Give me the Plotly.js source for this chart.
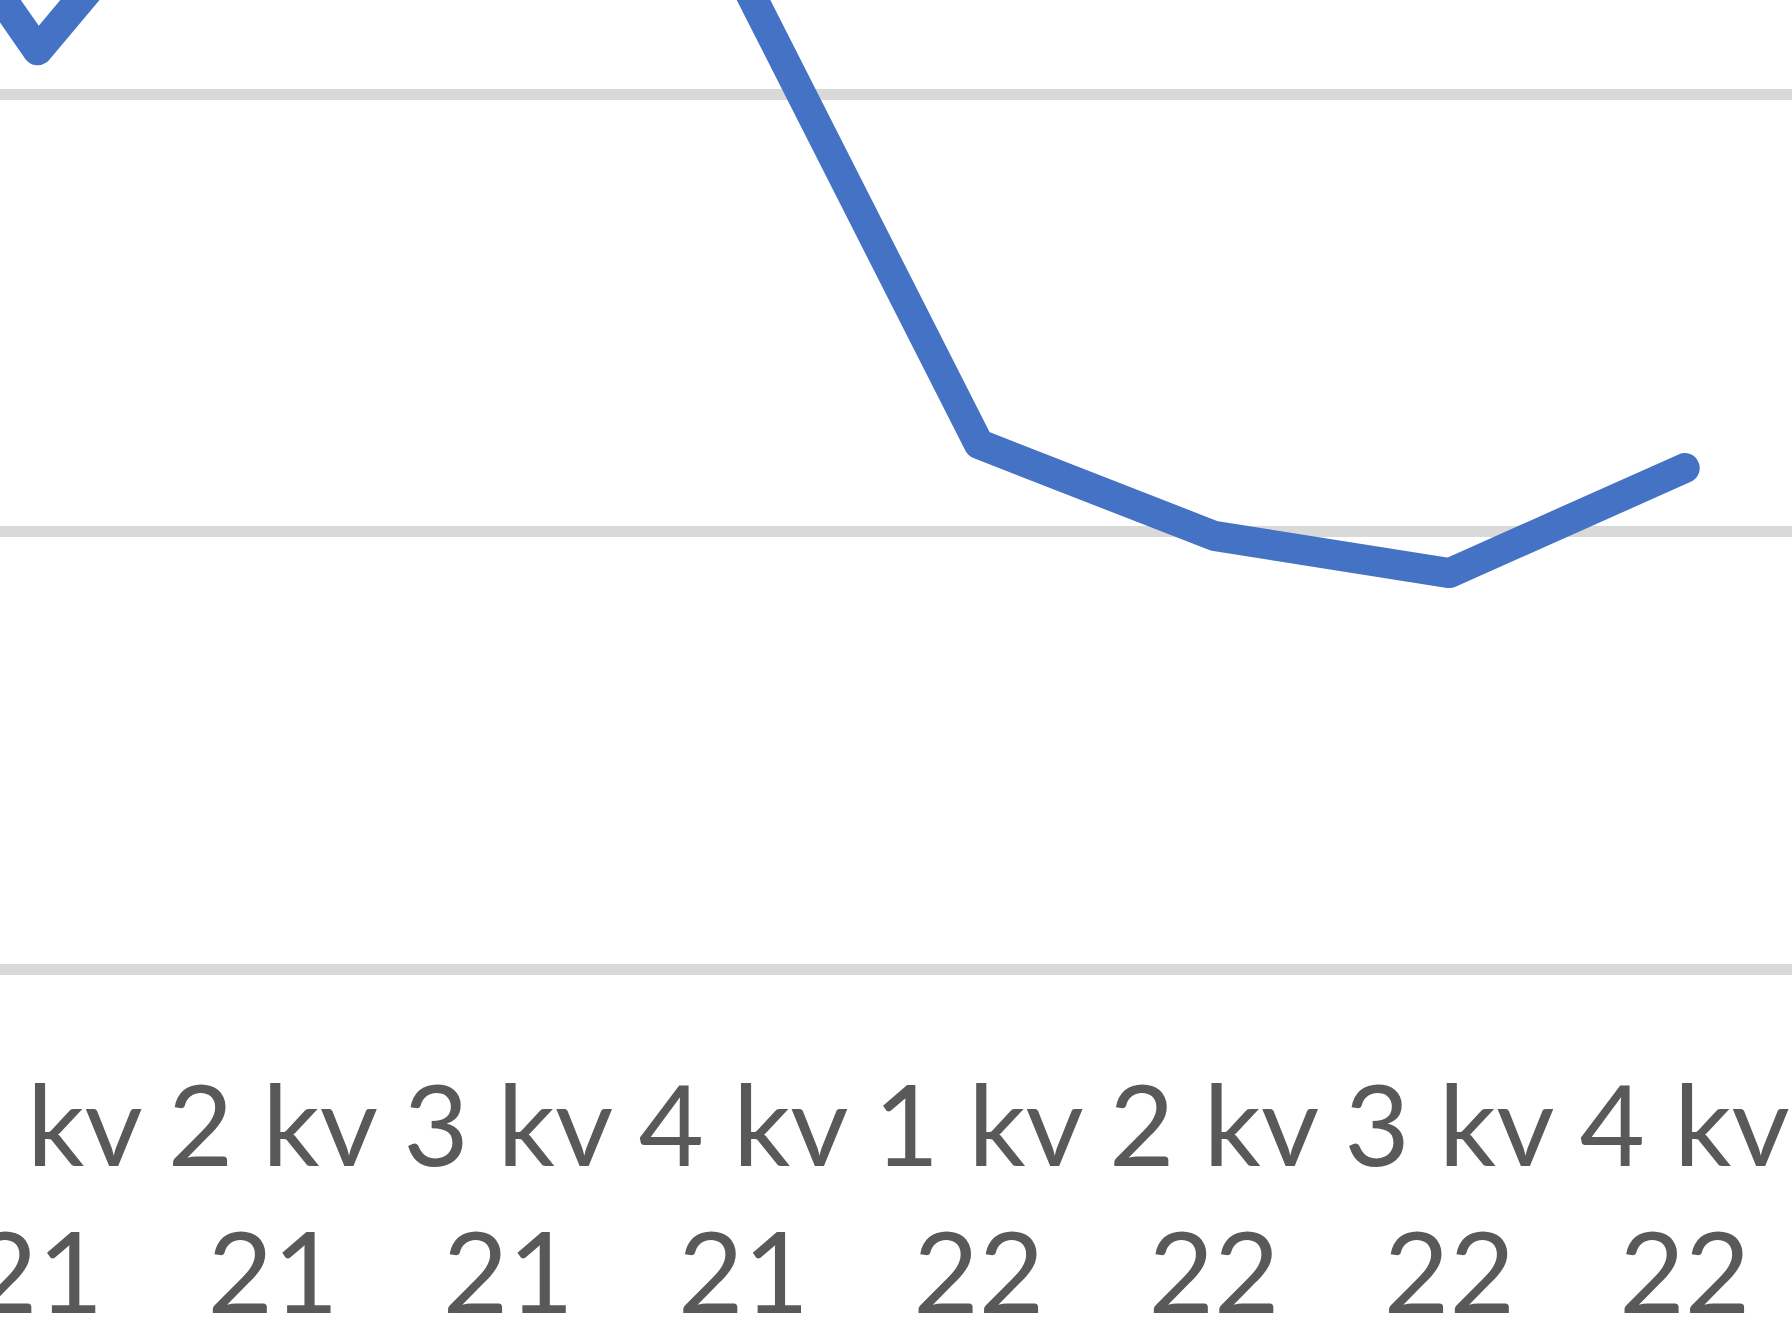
<!DOCTYPE html>
<html>
<head>
<meta charset="utf-8">
<script src="https://cdn.plot.ly/plotly-3.0.1.min.js"></script>
<style>
  html, body { margin: 0; padding: 0; background: #ffffff; overflow: hidden; }
  #chart { width: 1792px; height: 1325px; }
  .js-line { stroke-linejoin: round !important; stroke-linecap: round !important; }
</style>
</head>
<body>
<div id="chart"></div>
<script>
// Quarter categories (first one lies outside the visible window on the left)
const categories = ["4 kv 20", "1 kv 21", "2 kv 21", "3 kv 21", "4 kv 21", "1 kv 22", "2 kv 22", "3 kv 22", "4 kv 22"];
// Tick labels, two lines each
const tickLabels = ["4 kv<br>20", "1 kv<br>21", "2 kv<br>21", "3 kv<br>21", "4 kv<br>21", "1 kv<br>22", "2 kv<br>22", "3 kv<br>22", "4 kv<br>22"];
// Series values (gridlines at 0, 2, 4)
const values = [5.74, 4.20, 5.48, 5.25, 4.52, 2.40, 1.98, 1.81, 2.29];

const trace = {
  type: "scatter",
  mode: "lines",
  x: categories,
  y: values,
  line: { color: "#4472C4", width: 30, shape: "linear" },
  hoverinfo: "skip",
  showlegend: false
};

const layout = {
  width: 1792,
  height: 1325,
  margin: { l: 0, r: 0, t: 0, b: 356, pad: 0 },
  paper_bgcolor: "#ffffff",
  plot_bgcolor: "#ffffff",
  showlegend: false,
  xaxis: {
    type: "category",
    categoryorder: "array",
    categoryarray: categories,
    tickmode: "array",
    tickvals: categories,
    ticktext: tickLabels,
    range: [0.84, 8.456],
    showgrid: false,
    zeroline: false,
    showline: false,
    ticks: "",
    ticklabelstandoff: 83,
    tickangle: 0,
    tickfont: { family: "Lato, 'Open Sans', sans-serif", size: 113, color: "#595959" },
    fixedrange: true
  },
  yaxis: {
    range: [0, 4.43],
    dtick: 2,
    tick0: 0,
    showticklabels: false,
    showgrid: true,
    gridcolor: "#D9D9D9",
    gridwidth: 11,
    zeroline: true,
    zerolinecolor: "#D9D9D9",
    zerolinewidth: 11,
    showline: false,
    ticks: "",
    fixedrange: true
  }
};

Plotly.newPlot("chart", [trace], layout, { staticPlot: true, displayModeBar: false });
</script>
</body>
</html>
